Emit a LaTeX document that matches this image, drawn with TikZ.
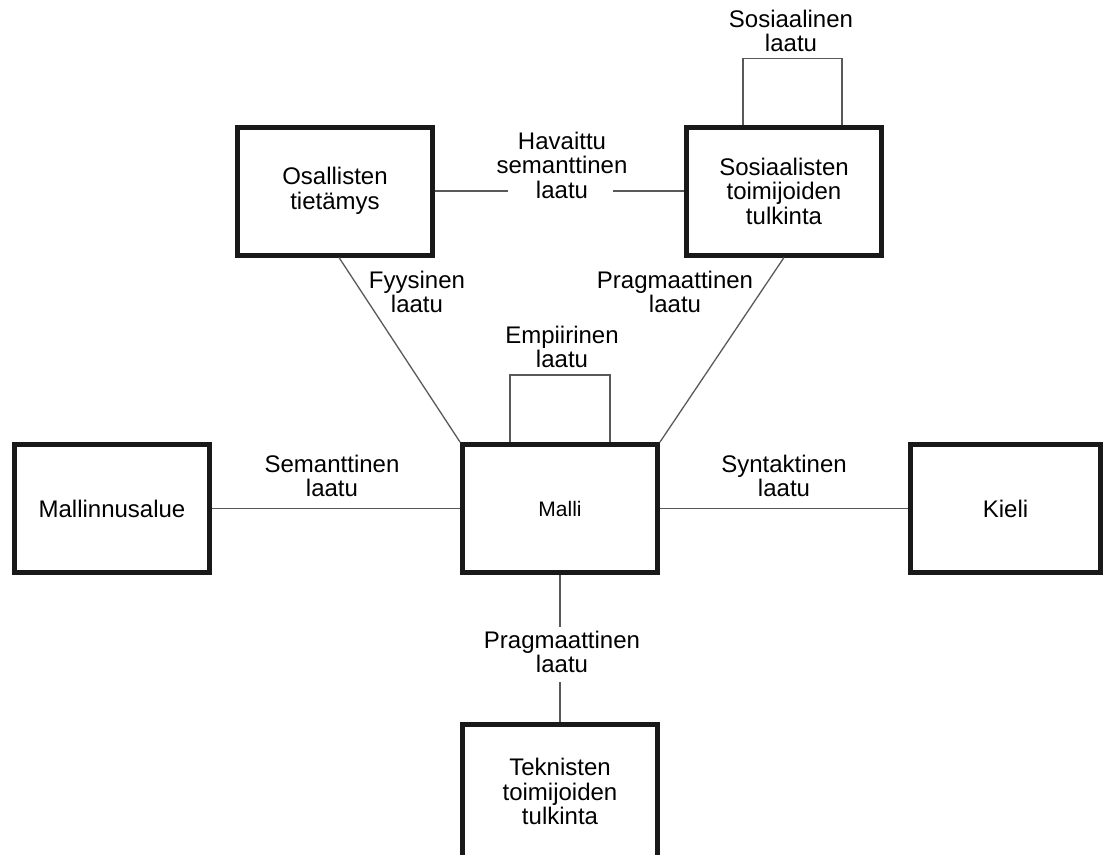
\documentclass[tikz,border=0pt]{standalone}
\usepackage{fontspec}
\setmainfont{Liberation Sans}
\begin{document}
\begin{tikzpicture}[x=1pt,y=-1pt,
  box/.style={draw=black!90, line width=5pt, fill=white, minimum width=195pt,
    minimum height=128pt, inner sep=0pt, align=center,
    font=\fontsize{24}{24.5}\selectfont},
  lbl/.style={align=center, inner sep=0pt, anchor=north,
    font=\fontsize{24}{24.5}\selectfont},
  link/.style={draw=black!65, line width=1.3pt}]
\useasboundingbox (0,0) rectangle (1108,854);
\clip (0,0) rectangle (1108,854);

% boxes
\node[box] (osal) at (335,191) {Osallisten\\tietämys};
\node[box] (sos) at (784,191) {Sosiaalisten\\toimijoiden\\tulkinta};
\node[box] (malli) at (560,508.5) {\fontsize{21}{24}\selectfont Malli};
\node[box] (alue) at (112,508.5) {Mallinnusalue};
\node[box, minimum width=190pt] (kieli) at (1005.5,508.5) {Kieli};
\node[box, minimum height=134pt] (tekn) at (560,791.5) {Teknisten\\toimijoiden\\tulkinta};

% quality labels
\node[lbl] (soslaatu) at (791,9.5) {Sosiaalinen\\laatu};
\node[lbl] (hav) at (562,131.5) {Havaittu\\semanttinen\\laatu};
\node[lbl] (fyys) at (417,270.5) {Fyysinen\\laatu};
\node[lbl] (prag1) at (675,270.5) {Pragmaattinen\\laatu};
\node[lbl] (emp) at (562,325.5) {Empiirinen\\laatu};
\node[lbl] (sem) at (332,454.5) {Semanttinen\\laatu};
\node[lbl] (syn) at (784,454.5) {Syntaktinen\\laatu};
\node[lbl] (prag2) at (562,630.5) {Pragmaattinen\\laatu};

% gap ends around the labels that sit on a line
\coordinate (hv1) at (508,191);
\coordinate (hv2) at (613,191);
\coordinate (pg1) at (560,627);
\coordinate (pg2) at (560,682);

% connectors
\draw[link] (osal.east) -- (hv1);
\draw[link] (hv2) -- (sos.west);
\draw[link] ([xshift=4pt]osal.south) -- (malli.north west);
\draw[link] (sos.south) -- (malli.north east);
\draw[link] ([xshift=-50pt]malli.north) -- ++(0,-67) -| ([xshift=50pt]malli.north);
\draw[link] ([xshift=-41pt]sos.north) -- ++(0,-66) -| ([xshift=58pt]sos.north);
\draw[link] (alue.east) -- (malli.west);
\draw[link] (malli.east) -- (kieli.west);
\draw[link] (malli.south) -- (pg1);
\draw[link] (pg2) -- (tekn.north);
\end{tikzpicture}
\end{document}
